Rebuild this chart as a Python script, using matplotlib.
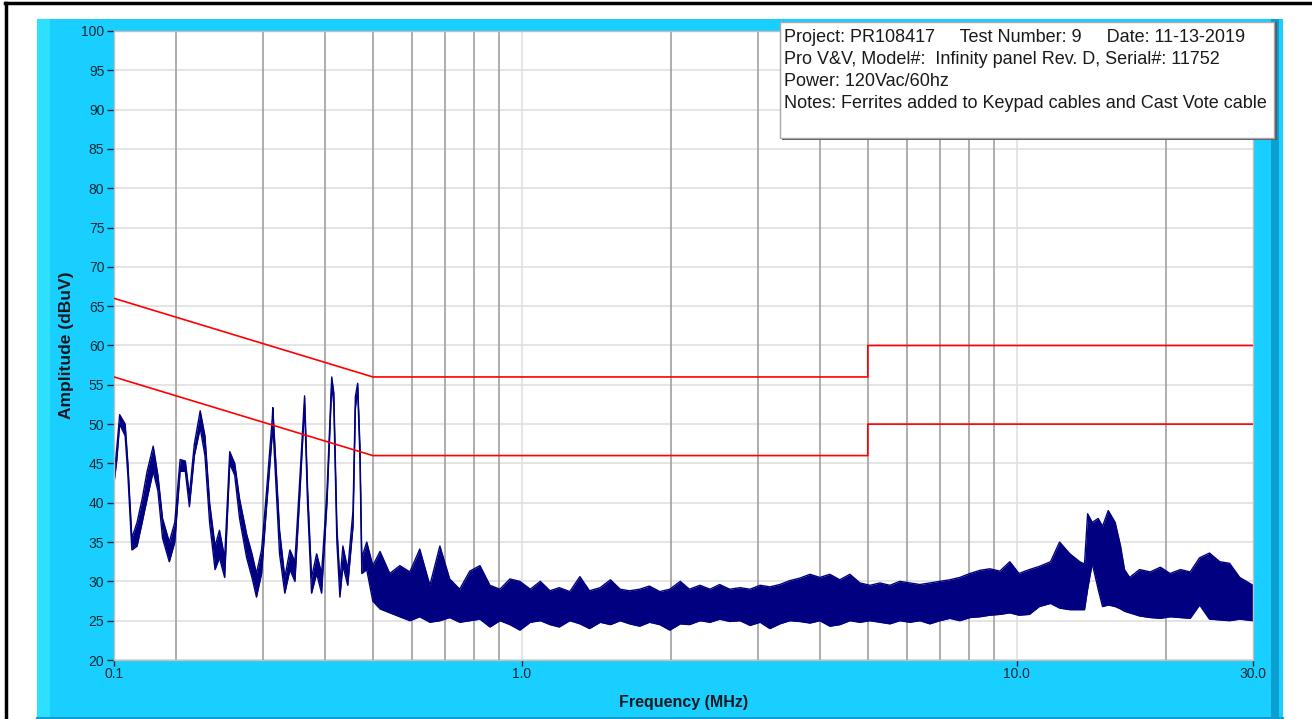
import numpy as np
import matplotlib
matplotlib.use("Agg")
import matplotlib.pyplot as plt
from matplotlib.patches import Rectangle
from matplotlib.lines import Line2D

plt.rcParams['font.family'] = ['Liberation Sans', 'DejaVu Sans']

# ---- data ----
# measured trace: frequency (MHz) with upper / lower edge of the noisy trace (dBuV)
freq = [0.150, 0.152, 0.154, 0.158, 0.160, 0.163, 0.167, 0.171, 0.175, 0.180,
        0.184, 0.188, 0.194, 0.199, 0.204, 0.209, 0.213, 0.218, 0.224, 0.229,
        0.234, 0.240, 0.245, 0.251, 0.257, 0.263, 0.269, 0.278, 0.285, 0.291,
        0.298, 0.305, 0.313, 0.314, 0.324, 0.332, 0.340, 0.348, 0.356, 0.364,
        0.369, 0.376, 0.385, 0.394, 0.404, 0.413, 0.417, 0.423, 0.429, 0.435,
        0.445, 0.456, 0.461, 0.466, 0.471, 0.475, 0.486, 0.500,
        0.517, 0.541, 0.567, 0.594, 0.622, 0.652, 0.683, 0.715, 0.749, 0.785,
        0.823, 0.862, 0.903, 0.946, 0.991, 1.04, 1.09, 1.14, 1.19, 1.25,
        1.31, 1.37, 1.44, 1.51, 1.58, 1.65, 1.73, 1.81, 1.90, 1.99,
        2.09, 2.18, 2.29, 2.40, 2.51, 2.63, 2.76, 2.89, 3.03, 3.17,
        3.32, 3.48, 3.64, 3.82, 4.00, 4.19, 4.39, 4.60, 4.82, 5.05,
        5.29, 5.54, 5.80, 6.08, 6.37, 6.67, 6.99, 7.32, 7.67, 8.04,
        8.42, 8.82, 9.24, 9.68, 10.1, 10.6, 11.1, 11.7, 12.2, 12.8,
        13.4, 13.7, 13.9, 14.2, 14.6, 14.9, 15.3, 15.8, 16.2, 16.5,
        16.9, 17.7, 18.6, 19.5, 20.4, 21.4, 22.4, 23.4, 24.5, 25.7,
        26.9, 28.2, 30.0]
amp_hi = [43.5, 47.0, 51.2, 50.0, 45.0, 35.5, 37.5, 40.5, 44.0, 47.2,
          43.5, 38.0, 35.0, 37.5, 45.5, 45.3, 41.0, 47.5, 51.7, 48.5,
          40.0, 34.5, 36.5, 33.0, 46.5, 45.0, 40.5, 36.0, 33.5, 31.0,
          34.0, 41.5, 50.5, 52.1, 36.5, 30.5, 34.0, 32.5, 43.0, 53.6,
          42.0, 30.5, 33.5, 31.0, 41.5, 56.0, 54.0, 37.0, 30.0, 34.5,
          31.5, 39.0, 53.5, 55.2, 47.0, 33.0, 35.0, 32.0,
          33.8, 31.0, 32.0, 31.2, 34.1, 29.5, 34.5, 30.3, 29.0, 31.3,
          32.0, 29.5, 29.0, 30.3, 30.0, 29.0, 30.0, 28.8, 29.2, 28.7,
          30.6, 28.8, 29.2, 30.2, 29.0, 28.8, 29.0, 29.4, 28.7, 29.0,
          30.0, 29.0, 29.5, 29.0, 29.6, 29.0, 29.2, 29.0, 29.5, 29.3,
          29.6, 30.1, 30.4, 30.9, 30.5, 30.9, 30.2, 30.9, 29.8, 29.5,
          29.8, 29.5, 30.0, 29.8, 29.6, 29.8, 30.0, 30.2, 30.5, 31.0,
          31.4, 31.6, 31.3, 32.5, 31.0, 31.5, 31.9, 32.5, 35.0, 33.5,
          32.5, 32.2, 38.6, 37.5, 38.0, 37.0, 39.0, 37.5, 34.5, 31.5,
          30.5, 31.5, 31.2, 31.8, 31.0, 31.5, 31.2, 33.0, 33.6, 32.5,
          32.3, 30.5, 29.5]
amp_lo = [42.5, 45.5, 50.0, 48.5, 43.5, 34.0, 34.5, 37.5, 40.5, 44.0,
          41.5, 35.5, 32.5, 35.0, 44.0, 44.0, 39.5, 46.0, 49.5, 46.0,
          37.5, 31.5, 33.0, 30.5, 45.0, 43.5, 38.0, 33.0, 30.5, 28.0,
          31.0, 39.5, 48.5, 50.0, 33.5, 28.5, 31.5, 30.0, 41.0, 52.5,
          40.0, 28.5, 31.0, 28.5, 40.0, 55.0, 52.5, 35.0, 28.0, 32.0,
          29.5, 37.0, 52.0, 54.5, 45.5, 31.0, 31.5, 27.5,
          26.5, 26.0, 25.5, 25.0, 25.5, 24.8, 25.0, 25.4, 24.8, 25.0,
          25.2, 24.2, 25.0, 24.5, 23.8, 24.8, 25.0, 24.5, 24.2, 25.0,
          24.6, 24.0, 24.8, 24.5, 25.0, 24.6, 24.3, 24.8, 24.5, 23.8,
          24.6, 24.5, 25.0, 24.8, 25.2, 24.9, 25.0, 24.4, 24.8, 24.0,
          24.6, 25.0, 24.9, 24.7, 25.0, 24.3, 24.5, 25.0, 24.8, 25.0,
          24.8, 24.6, 25.0, 24.8, 25.0, 24.6, 25.0, 25.3, 25.0, 25.4,
          25.5, 25.7, 25.8, 26.0, 25.7, 25.8, 26.8, 27.2, 26.6, 26.4,
          26.4, 26.4, 29.0, 32.3, 29.0, 26.8, 27.0, 26.8, 26.5, 26.2,
          26.0, 25.6, 25.4, 25.3, 25.5, 25.4, 25.3, 27.0, 25.2, 25.1,
          25.0, 25.2, 25.0]

# limit lines (quasi-peak and average)
limit_freq = [0.15, 0.5, 5.0, 5.0, 30.0]
limit_qp = [66, 56, 56, 60, 60]
limit_avg = [56, 46, 46, 50, 50]

y_ticks = list(range(20, 101, 5))
x_ticks = [0.15, 1.0, 10.0, 30.0]
x_tick_labels = ['0.1', '1.0', '10.0', '30.0']
minor_grid = [0.2, 0.3, 0.4, 0.5, 0.6, 0.7, 0.8, 0.9,
              2, 3, 4, 5, 6, 7, 8, 9, 20]
major_grid = [1.0, 10.0]

info_lines = [
    "Project: PR108417     Test Number: 9     Date: 11-13-2019",
    "Pro V&V, Model#:  Infinity panel Rev. D, Serial#: 11752",
    "Power: 120Vac/60hz",
    "Notes: Ferrites added to Keypad cables and Cast Vote cable",
]

W, H = 1312, 719
fig = plt.figure(figsize=(W / 100, H / 100), dpi=100, facecolor='white')


def fx(px):
    return px / W


def fy(py):
    return 1 - py / H


# cyan panel behind the plot
cyan = '#19cfff'
fig.add_artist(Rectangle((fx(37), fy(719)), fx(1283) - fx(37), fy(19) - fy(719),
                         transform=fig.transFigure, facecolor=cyan,
                         edgecolor='none', zorder=-5))
fig.add_artist(Rectangle((fx(37), fy(719)), fx(50) - fx(37), fy(19) - fy(719),
                         transform=fig.transFigure, facecolor='#2de0ff',
                         edgecolor='none', zorder=-4))
fig.add_artist(Rectangle((fx(1271), fy(719)), fx(1279) - fx(1271), fy(19) - fy(719),
                         transform=fig.transFigure, facecolor='#0a9fd0',
                         edgecolor='none', zorder=-4))
fig.add_artist(Line2D([fx(37), fx(1283)], [fy(717.5), fy(717.5)],
                      transform=fig.transFigure, color='#0a9fd0', lw=1.5, zorder=-3))
# black frame lines
fig.add_artist(Line2D([fx(5), fx(1312)], [fy(2.5), fy(2.5)],
                      transform=fig.transFigure, color='black', lw=2.5))
fig.add_artist(Line2D([fx(6), fx(6)], [fy(2.5), fy(719)],
                      transform=fig.transFigure, color='black', lw=2.5))

ax = fig.add_axes([fx(114), fy(660), fx(1253) - fx(114), fy(31) - fy(660)])
ax.set_facecolor('white')
ax.set_xscale('log')
ax.set_xlim(0.15, 30)
ax.set_ylim(20, 100)

for y in y_ticks:
    ax.axhline(y, color='#e0e0e0', lw=1.2, zorder=0)
for f in major_grid:
    ax.axvline(f, color='#e0e0e0', lw=1.2, zorder=0)
for f in minor_grid:
    ax.axvline(f, color='#a0a0a0', lw=1.2, zorder=0)

navy = '#000080'
ax.fill_between(freq, amp_lo, amp_hi, color=navy, lw=0, zorder=2)
ax.plot(freq, amp_hi, color=navy, lw=1.0, zorder=2)
ax.plot(freq, amp_lo, color=navy, lw=1.0, zorder=2)

ax.plot(limit_freq, limit_qp, color='#ff0000', lw=1.2, zorder=3)
ax.plot(limit_freq, limit_avg, color='#ff0000', lw=1.2, zorder=3)

tick_color = '#0a2a35'
ax.set_yticks(y_ticks)
ax.set_xticks(x_ticks)
ax.set_xticklabels(x_tick_labels)
ax.xaxis.set_minor_locator(matplotlib.ticker.NullLocator())
ax.tick_params(axis='both', direction='out', length=5, width=1, color=tick_color,
               labelcolor=tick_color, labelsize=10)
ax.tick_params(axis='x', length=4, pad=1)
ax.tick_params(axis='y', pad=2)

for s in ax.spines.values():
    s.set_color('#c0c0c0')
    s.set_linewidth(1)

ax.set_xlabel('Frequency (MHz)', fontsize=11.5, fontweight='bold', color='#101820',
              labelpad=10)
ax.set_ylabel('Amplitude (dBuV)', fontsize=12.5, fontweight='bold', color='#101820',
              labelpad=5)

# info box in the upper right, over the plot edge
fig.add_artist(Rectangle((fx(782), fy(140)), fx(1277) - fx(782), fy(22) - fy(140),
                         transform=fig.transFigure, facecolor='#505a60',
                         edgecolor='none', zorder=5))
fig.add_artist(Rectangle((fx(780), fy(138)), fx(1274) - fx(780), fy(22) - fy(138),
                         transform=fig.transFigure, facecolor='white',
                         edgecolor='#a8a8a8', lw=1, zorder=6))
for i, line in enumerate(info_lines):
    fig.text(fx(784), fy(37 + 22.3 * i), line, fontsize=13, color='#1a1a1a',
             va='center', ha='left', zorder=7)

fig.savefig('out.png', dpi=100, facecolor='white')
